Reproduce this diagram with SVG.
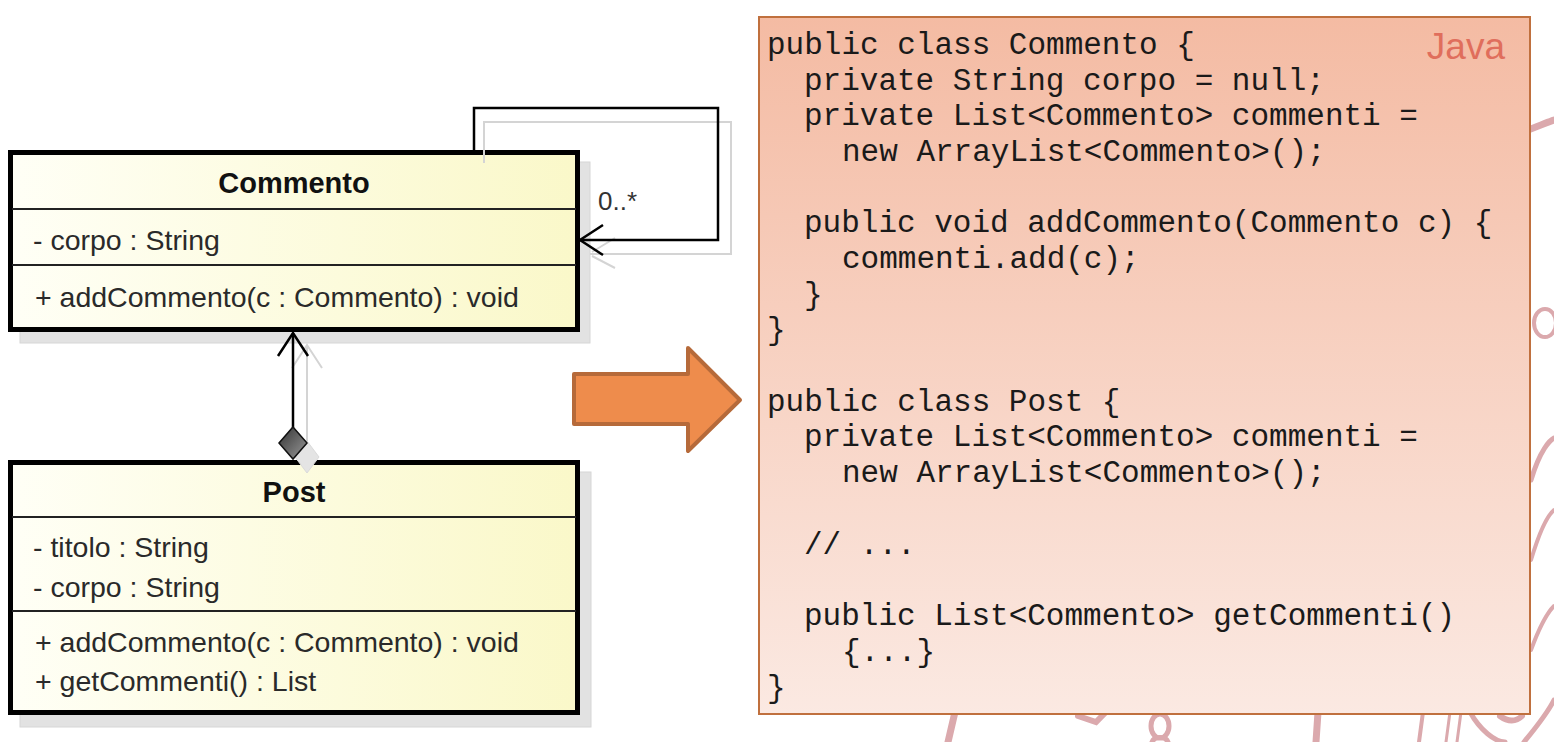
<svg xmlns="http://www.w3.org/2000/svg" width="1554" height="742" viewBox="0 0 1554 742">
<defs>
<linearGradient id="cls" x1="0" y1="0" x2="1" y2="0">
<stop offset="0" stop-color="#fffff6"/>
<stop offset="1" stop-color="#faf8c9"/>
</linearGradient>
<linearGradient id="code" x1="0" y1="0" x2="0" y2="1">
<stop offset="0" stop-color="#f4bba3"/>
<stop offset="1" stop-color="#fbe9e2"/>
</linearGradient>
<linearGradient id="dia" x1="0" y1="0" x2="1" y2="1">
<stop offset="0" stop-color="#333"/>
<stop offset="1" stop-color="#999"/>
</linearGradient>
<style>
.deco{fill:none;stroke:#dba9ad;stroke-linecap:round}
.shadow{fill:#e2e2e2;stroke:#d6d6d6;stroke-width:1}
.box{fill:url(#cls);stroke:#000;stroke-width:5}
.div{stroke:#222;stroke-width:2}
.uml{font-family:"Liberation Sans",Arial,sans-serif;font-size:28.5px;fill:#2a2a2a}
.title{font-family:"Liberation Sans",Arial,sans-serif;font-size:29px;font-weight:bold;fill:#111}
.code{font-family:"Liberation Mono","Courier New",monospace;font-size:31px;fill:#1a1a1a}
.ln{fill:none;stroke:#000;stroke-width:2.5}
.sh{fill:none;stroke:#d4d4d4;stroke-width:2}
</style>
</defs>
<rect width="1554" height="742" fill="#fff"/>

<g id="background-decoration">
<path class="deco" stroke-width="7" d="M1528,130 C1538,126 1548,122 1554,120"/>
<ellipse class="deco" stroke-width="4" cx="1545" cy="323" rx="11" ry="14"/>
<path class="deco" stroke-width="5" d="M1531,480 C1540,450 1550,440 1554,438"/>
<path class="deco" stroke-width="4" d="M1531,560 C1540,530 1548,515 1554,510"/>
<path class="deco" stroke-width="4" d="M1531,650 C1542,620 1550,610 1554,606"/>
<path class="deco" stroke-width="7" d="M955,712 L948,742"/>
<path class="deco" stroke-width="6" d="M1078,716 L1096,722 L1106,712"/>
<ellipse class="deco" stroke-width="5" cx="1160" cy="726" rx="9" ry="12"/>
<path class="deco" stroke-width="5" d="M1152,742 C1154,736 1166,736 1168,742"/>
<path class="deco" stroke-width="7" d="M1318,712 L1316,742"/>
<path class="deco" stroke-width="4" d="M1423,712 L1419,742"/>
<path class="deco" stroke-width="3" d="M1450,712 L1446,742 M1461,712 L1457,742"/>
<path class="deco" stroke-width="5" d="M1470,712 C1480,730 1495,742 1505,742"/>
<path class="deco" stroke-width="6" d="M1500,716 C1508,722 1516,722 1522,716"/>
<path class="deco" stroke-width="5" d="M1524,742 C1538,725 1548,712 1554,700"/>
</g>

<g id="Commento">
<rect class="shadow" x="20" y="162" width="570" height="181"/>
<rect class="box" x="10.5" y="152.5" width="567" height="177"/>
<line class="div" x1="12" y1="209" x2="576" y2="209"/>
<line class="div" x1="12" y1="265" x2="576" y2="265"/>
<text class="title" x="294" y="193" text-anchor="middle">Commento</text>
<text class="uml" x="33" y="250">- corpo : String</text>
<text class="uml" x="35" y="307">+ addCommento(c : Commento) : void</text>
</g>

<g id="Post">
<rect class="shadow" x="20" y="472" width="571" height="255"/>
<rect class="box" x="10.5" y="462.5" width="567" height="250"/>
<line class="div" x1="12" y1="517" x2="576" y2="517"/>
<line class="div" x1="12" y1="611" x2="576" y2="611"/>
<text class="title" x="294" y="502" text-anchor="middle">Post</text>
<text class="uml" x="33" y="557">- titolo : String</text>
<text class="uml" x="33" y="597">- corpo : String</text>
<text class="uml" x="35" y="652">+ addCommento(c : Commento) : void</text>
<text class="uml" x="35" y="691">+ getCommenti() : List</text>
</g>

<g id="connectors">
<path class="sh" d="M484,163 L484,122 L731,122 L731,254 L590,254"/>
<path class="sh" d="M615,238 L592,252 M592,256 L615,268"/>
<path class="ln" d="M474,152 L474,108 L718,108 L718,240 L580,240"/>
<path class="ln" d="M603,225 L580,240 L603,255"/>
<text x="598" y="210" font-family="Liberation Sans,Arial,sans-serif" font-size="26" fill="#333">0..*</text>
<path class="sh" d="M307,345 L307,445"/>
<path class="sh" d="M292,368 L307,345 L322,368"/>
<path d="M307,441 L319,457 L307,473 L295,457 Z" fill="#e4e4e4" stroke="#dadada"/>
<path class="ln" d="M293,333 L293,428"/>
<path class="ln" d="M278,356 L293,333 L308,356"/>
<path d="M293,427 L307,443 L293,459 L279,443 Z" fill="url(#dia)" stroke="#111" stroke-width="1.5"/>
</g>

<g id="arrow">
<path d="M574,374 L688,374 L688,348 L740,400 L688,451 L688,424 L574,424 Z" fill="#ee8c4c" stroke="#b66a3a" stroke-width="4" stroke-linejoin="round"/>
</g>

<g id="java-code">
<rect x="759" y="17" width="771" height="697" fill="url(#code)" stroke="#c0703e" stroke-width="2"/>
<text x="1505" y="59" text-anchor="end" font-family="Liberation Sans,Arial,sans-serif" font-size="37" fill="#e06e5c">Java</text>
<text class="code" x="767" y="54">public class Commento {</text>
<text class="code" x="804" y="90">private String corpo = null;</text>
<text class="code" x="804" y="125">private List&lt;Commento&gt; commenti =</text>
<text class="code" x="842" y="161">new ArrayList&lt;Commento&gt;();</text>
<text class="code" x="804" y="232">public void addCommento(Commento c) {</text>
<text class="code" x="842" y="268">commenti.add(c);</text>
<text class="code" x="804" y="304">}</text>
<text class="code" x="767" y="339">}</text>
<text class="code" x="767" y="411">public class Post {</text>
<text class="code" x="804" y="446">private List&lt;Commento&gt; commenti =</text>
<text class="code" x="842" y="482">new ArrayList&lt;Commento&gt;();</text>
<text class="code" x="804" y="554">// ...</text>
<text class="code" x="804" y="625">public List&lt;Commento&gt; getCommenti()</text>
<text class="code" x="842" y="661">{...}</text>
<text class="code" x="767" y="697">}</text>
</g>
</svg>
